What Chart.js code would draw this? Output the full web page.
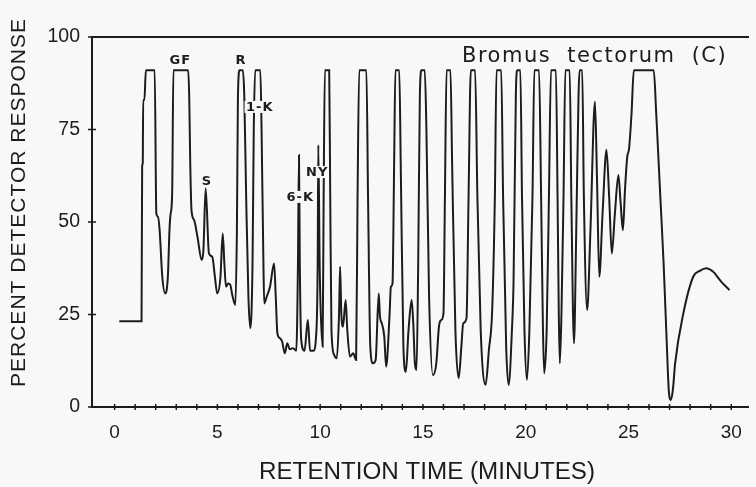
<!DOCTYPE html>
<html>
<head>
<meta charset="utf-8">
<script src="https://cdn.jsdelivr.net/npm/chart.js@4.4.1/dist/chart.umd.min.js"></script>
<style>
  html, body { margin: 0; padding: 0; background: #f8f8fa; overflow: hidden; }
  #wrap { width: 756px; height: 487px; }
</style>
</head>
<body>
<div id="wrap"><canvas id="chrom" width="756" height="487"></canvas></div>
<script>
// retention time (min) / percent detector response
const timeMin = [
  0.23, 1.31, 1.34, 1.37, 1.39, 1.45, 1.52, 1.95, 2.03, 2.11, 2.19, 2.32, 2.46, 2.59, 2.67, 2.72, 2.8, 2.86,
  3.58, 3.63, 3.68, 3.74, 3.87, 4.03, 4.24, 4.32, 4.43, 4.59, 4.75, 4.88, 4.99, 5.15, 5.26, 5.34, 5.42,
  5.52, 5.63, 5.71, 5.87, 5.95, 6.0, 6.08, 6.24, 6.31, 6.4, 6.51, 6.6, 6.71, 6.77, 6.84, 7.09, 7.15,
  7.24, 7.28, 7.4, 7.56, 7.76, 7.84, 7.92, 8.04, 8.15, 8.28, 8.4, 8.52, 8.68, 8.84, 8.92, 8.97, 9.01,
  9.08, 9.24, 9.4, 9.51, 9.67, 9.8, 9.88, 9.91, 9.98, 10.12, 10.17, 10.23, 10.44, 10.49, 10.55, 10.68,
  10.81, 10.92, 10.97, 11.03, 11.11, 11.24, 11.32, 11.45, 11.61, 11.75, 11.82, 11.9, 12.25, 12.33, 12.44,
  12.57, 12.7, 12.85, 12.91, 13.0, 13.12, 13.21, 13.38, 13.44, 13.52, 13.6, 13.66, 13.85, 13.92, 14.05,
  14.17, 14.3, 14.45, 14.53, 14.61, 14.69, 14.77, 14.85, 14.93, 15.09, 15.17, 15.3, 15.49, 15.65, 15.78,
  15.89, 16.0, 16.07, 16.15, 16.34, 16.42, 16.58, 16.74, 16.87, 16.96, 17.12, 17.22, 17.33, 17.54, 17.65,
  17.81, 18.05, 18.21, 18.37, 18.5, 18.58, 18.81, 18.9, 19.05, 19.17, 19.33, 19.41, 19.52, 19.58, 19.74,
  19.82, 19.94, 20.06, 20.18, 20.33, 20.42, 20.65, 20.75, 20.84, 20.9, 21.02, 21.13, 21.23, 21.47, 21.55,
  21.61, 21.66, 21.74, 21.84, 21.93, 22.14, 22.22, 22.35, 22.46, 22.57, 22.62, 22.75, 22.83, 22.99, 23.15,
  23.37, 23.47, 23.58, 23.74, 23.93, 24.06, 24.19, 24.34, 24.51, 24.62, 24.73, 24.83, 24.94, 25.03, 25.15,
  25.26, 26.23, 26.35, 26.55, 26.71, 26.87, 26.96, 27.06, 27.16, 27.27, 27.67, 28.15, 28.47, 28.79, 29.11,
  29.51, 29.91
];
const response = [
  23.2, 23.2, 65, 66, 83, 83, 91, 91, 52.3, 51.4, 47.8, 35.2, 30.7, 35.2, 47.8, 52, 57.7, 91,
  91, 83.9, 65.9, 53.2, 50.5, 46, 39.7, 42.4, 59.1, 41.5, 40.6, 35.2, 30.7, 35.2, 46.9, 38.8, 32.5,
  33.4, 33, 30.7, 27.6, 47.8, 83.9, 91, 91, 83.9, 56.8, 29.8, 21.3, 38.8, 74.9, 91, 91, 74.9,
  38.8, 28, 29.8, 32.5, 38.8, 29.8, 19.9, 18.6, 17.7, 14.5, 17.2, 15.6, 15.9, 15.2, 38.8, 68.1, 38.8,
  18.1, 15.2, 23.5, 15.2, 15.2, 19, 38.8, 70.8, 37, 16.3, 56.8, 91, 91, 56.8, 20.8, 14.1,
  13.2, 25.3, 37.9, 25.3, 21.7, 28.9, 20.8, 13.6, 14.5, 12.7, 56.8, 91, 91, 56.8, 16.3,
  11.8, 12.7, 30.7, 24.4, 22.6, 19, 10.9, 25.3, 32.5, 33.4, 65.9, 91, 91, 65.9, 16.3,
  9.5, 20.8, 28.9, 22.6, 11.8, 10, 38.8, 83.9, 91, 91, 74.9, 29.8, 8.6, 11.8, 21.7,
  23.5, 25.3, 56.8, 91, 91, 65.9, 20.8, 7.8, 16.3, 22.6, 24, 56.8, 91, 91, 56.8,
  20.8, 6, 15.4, 26.2, 56.8, 91, 91, 56.8, 16.3, 6, 20.8, 34.3, 83.9, 91, 91,
  56.8, 20.8, 7.3, 20.8, 56.8, 91, 91, 56.8, 20.8, 9.1, 20.8, 56.8, 91, 91, 56.8,
  25.3, 11.8, 25.3, 56.8, 91, 91, 56.8, 17.2, 47.8, 83.9, 91, 91, 56.8, 26.2, 47.8,
  82.5, 61.4, 35.2, 52.3, 69.5, 56.8, 41.5, 52.3, 62.7, 55, 47.8, 58.6, 67.6, 69.9, 79.4,
  91, 91, 79.4, 56.8, 38.8, 16.3, 4.6, 1.9, 4.6, 11.8, 25.3, 35.2, 36.8, 37.5, 36.6,
  33.9, 31.6
];

const xTickValues = [];
for (let i = 0; i <= 30; i++) xTickValues.push(i);
const yTickValues = [0, 25, 50, 75, 100];

// peak labels, placed in data units (time, response)
const peakNames = ['GF', 'R', '1-K', 'S', '6-K', 'NY'];
const peakTime  = [3.17, 6.13, 7.04, 4.47, 9.01, 9.83];
const peakResp  = [93.7, 93.8, 81.1, 61.1, 56.8, 63.5];

const sampleName = 'Bromus tectorum (C)';
const xTitle = 'RETENTION TIME (MINUTES)';
const yTitle = 'PERCENT DETECTOR RESPONSE';

const INK = '#1c1c1c';
const BG = '#f8f8fa';

// small tick marks crossing both axes
const crossTicks = {
  id: 'crossTicks',
  afterDraw(chart) {
    const ctx = chart.ctx;
    const xs = chart.scales.x, ys = chart.scales.y;
    const { left, bottom } = chart.chartArea;
    ctx.save();
    ctx.strokeStyle = INK;
    ctx.lineWidth = 1.5;
    ctx.beginPath();
    xTickValues.forEach(v => {
      const px = xs.getPixelForValue(v);
      ctx.moveTo(px, bottom - 3); ctx.lineTo(px, bottom + 3);
    });
    yTickValues.forEach(v => {
      const py = ys.getPixelForValue(v);
      ctx.moveTo(left - 4, py); ctx.lineTo(left + 4, py);
    });
    ctx.stroke();
    ctx.restore();
  }
};

// titles and peak annotations
const textLayer = {
  id: 'textLayer',
  afterDraw(chart) {
    const ctx = chart.ctx;
    const xs = chart.scales.x, ys = chart.scales.y;
    ctx.save();
    ctx.fillStyle = INK;
    ctx.textBaseline = 'middle';

    // peak labels with a background patch so they cut the trace
    ctx.font = 'bold 13px "DejaVu Sans", sans-serif';
    ctx.letterSpacing = '1px';
    ctx.textAlign = 'center';
    peakNames.forEach((name, i) => {
      const px = xs.getPixelForValue(peakTime[i]);
      const py = ys.getPixelForValue(peakResp[i]);
      const w = ctx.measureText(name).width;
      ctx.fillStyle = BG;
      ctx.fillRect(px - w / 2 - 1, py - 6, w + 2, 12);
      ctx.fillStyle = INK;
      ctx.fillText(name, px + 0.5, py + 0.5);
    });

    // sample name
    ctx.font = '21px "DejaVu Sans", sans-serif';
    ctx.textAlign = 'left';
    ctx.letterSpacing = '1.5px';
    ctx.wordSpacing = '8px';
    ctx.fillText(sampleName, 462, 57);
    ctx.letterSpacing = '0px';
    ctx.wordSpacing = '0px';

    // x title, condensed to the reference width
    ctx.font = '23px "Liberation Sans", sans-serif';
    ctx.textAlign = 'center';
    const xw = ctx.measureText(xTitle).width;
    ctx.save();
    ctx.translate(427, 473);
    ctx.scale(336 / xw, 1);
    ctx.fillText(xTitle, 0, 0);
    ctx.restore();

    // y title
    ctx.font = '21px "Liberation Sans", sans-serif';
    ctx.letterSpacing = '1px';
    const yw = ctx.measureText(yTitle).width;
    ctx.save();
    ctx.translate(19.5, 202.5);
    ctx.rotate(-Math.PI / 2);
    ctx.scale(369 / yw, 1);
    ctx.fillText(yTitle, 0, 0);
    ctx.restore();
    ctx.restore();
  }
};

new Chart(document.getElementById('chrom'), {
  type: 'line',
  data: {
    datasets: [{
      data: timeMin.map((t, i) => ({ x: t, y: response[i] })),
      borderColor: INK,
      borderWidth: 2,
      pointRadius: 0,
      cubicInterpolationMode: 'monotone',
      fill: false
    }]
  },
  plugins: [crossTicks, textLayer],
  options: {
    responsive: false,
    animation: false,
    devicePixelRatio: 1,
    layout: { padding: 0 },
    plugins: { legend: { display: false }, tooltip: { enabled: false } },
    scales: {
      x: {
        type: 'linear',
        position: 'bottom',
        min: -1.1,
        max: 30.85,
        afterBuildTicks: s => { s.ticks = xTickValues.map(v => ({ value: v })); },
        afterFit: s => { s.height = 80; },
        ticks: {
          autoSkip: false,
          maxRotation: 0,
          padding: 14,
          color: INK,
          font: { size: 19, family: '"Liberation Sans", sans-serif' },
          callback: v => (v % 5 === 0 ? String(v) : '')
        },
        grid: { drawOnChartArea: false, drawTicks: false },
        border: { color: INK, width: 2 }
      },
      xTop: {
        type: 'linear',
        position: 'top',
        min: -1.1,
        max: 30.85,
        afterFit: s => { s.height = 37; },
        ticks: { display: false },
        grid: { display: false },
        border: { color: INK, width: 2 }
      },
      y: {
        min: 0,
        max: 100,
        afterBuildTicks: s => { s.ticks = yTickValues.map(v => ({ value: v })); },
        afterFit: s => { s.width = 92; },
        ticks: {
          padding: 12,
          color: INK,
          font: { size: 19.5, family: '"Liberation Sans", sans-serif' }
        },
        grid: { drawOnChartArea: false, drawTicks: false },
        border: { color: INK, width: 2 }
      }
    }
  }
});
</script>
</body>
</html>
